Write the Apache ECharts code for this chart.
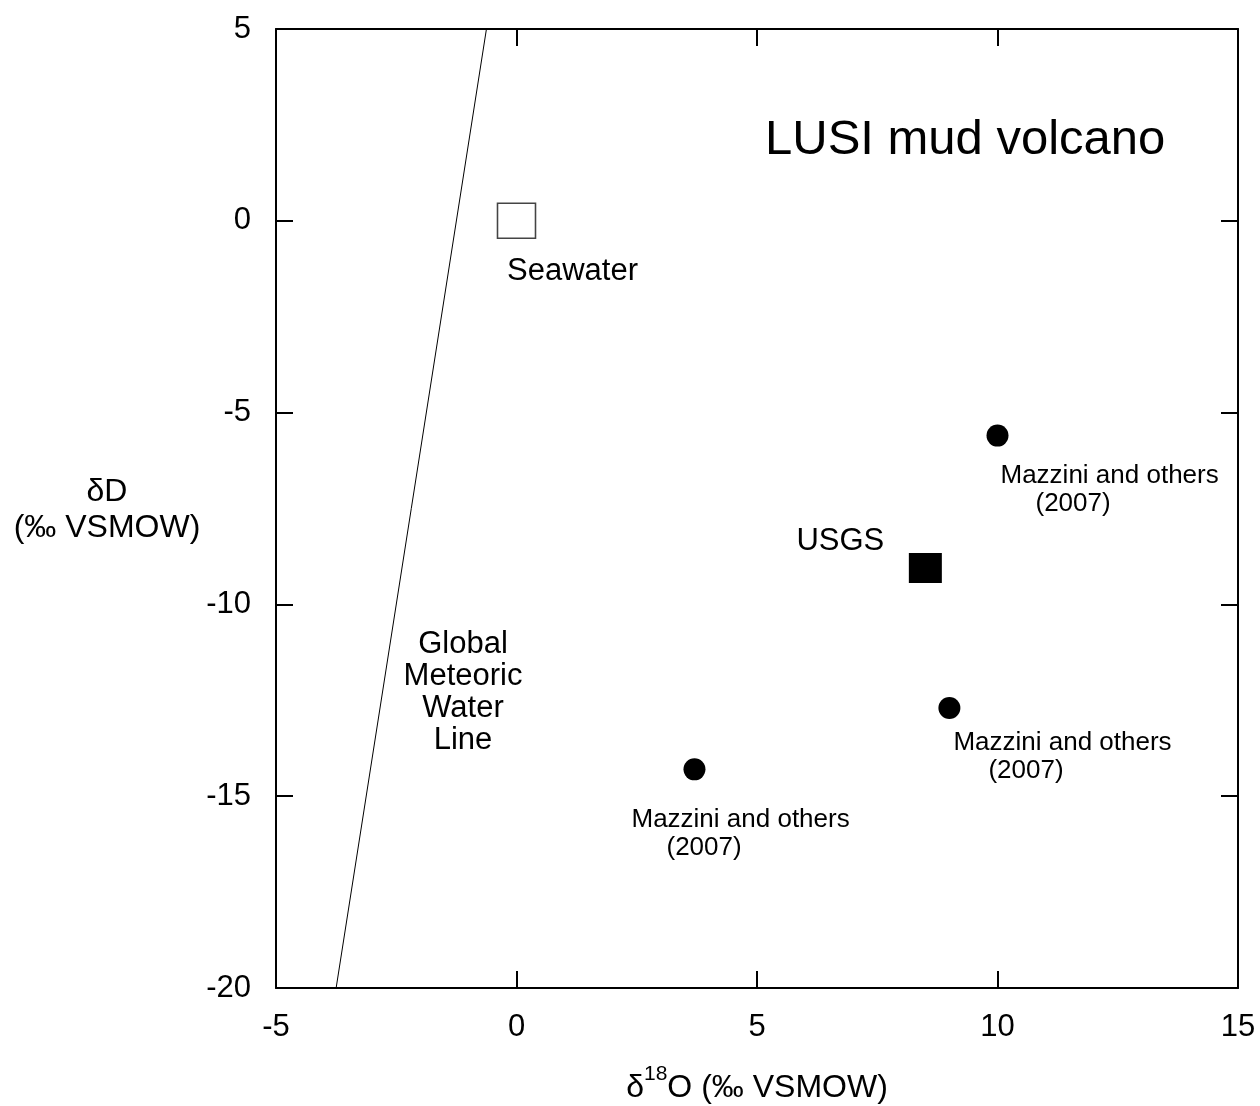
<!DOCTYPE html>
<html>
<head>
<meta charset="utf-8">
<title>LUSI mud volcano</title>
<script src="https://cdn.jsdelivr.net/npm/echarts@6/dist/echarts.min.js"></script>
<style>
  html, body { margin: 0; padding: 0; background: #fff; }
  #chart { width: 1260px; height: 1106px; }
</style>
</head>
<body>
<div id="chart"></div>
<script>
// values
const xTicks = [-5, 0, 5, 10, 15];
const yTicks = [-20, -15, -10, -5, 0, 5];

const gmwlX = [-3.75, -0.625];
const gmwlY = [-20, 5];

const seawaterX = [0];
const seawaterY = [0];

const usgsX = [8.5];
const usgsY = [-9.05];

const mazziniX = [10, 9, 3.7];
const mazziniY = [-5.6, -12.7, -14.3];

// label offsets for the Mazzini points (pixels, from the symbol centre)
const mazziniOffsets = [[3, 54], [4, 49], [-63, 64]];

const FONT = "'Liberation Sans', Arial, Helvetica, sans-serif";

const chart = echarts.init(document.getElementById("chart"));

const axisLine = { show: true, onZero: false, lineStyle: { color: "#000", width: 2 } };
const axisTick = { show: true, inside: true, length: 17, lineStyle: { color: "#000", width: 2 } };

const option = {
  animation: false,
  backgroundColor: "#fff",
  textStyle: { fontFamily: FONT, color: "#000" },
  grid: { left: 276, right: 22, top: 29, bottom: 118, outerBoundsMode: "none", containLabel: false },
  title: {
    text: "LUSI mud volcano",
    left: 760,
    top: 111,
    textStyle: { fontFamily: FONT, fontSize: 49, fontWeight: "normal", color: "#000" }
  },
  xAxis: [
    {
      type: "value",
      min: xTicks[0],
      max: xTicks[xTicks.length - 1],
      interval: 5,
      position: "bottom",
      axisLine: axisLine,
      axisTick: axisTick,
      splitLine: { show: false },
      axisLabel: { fontSize: 31, color: "#000", margin: 24, fontFamily: FONT },
      name: "{d|δ}{s|18}{d|O (‰ VSMOW)}",
      nameLocation: "middle",
      nameGap: 76,
      nameTextStyle: {
        rich: {
          d: { fontSize: 32, lineHeight: 48, color: "#000", fontFamily: FONT },
          s: { fontSize: 21, lineHeight: 22, verticalAlign: "top", color: "#000", fontFamily: FONT }
        }
      }
    },
    {
      type: "value",
      min: xTicks[0],
      max: xTicks[xTicks.length - 1],
      interval: 5,
      position: "top",
      axisLine: axisLine,
      axisTick: axisTick,
      splitLine: { show: false },
      axisLabel: { show: false }
    }
  ],
  yAxis: [
    {
      type: "value",
      min: yTicks[0],
      max: yTicks[yTicks.length - 1],
      interval: 5,
      position: "left",
      axisLine: axisLine,
      axisTick: axisTick,
      splitLine: { show: false },
      axisLabel: { fontSize: 31, color: "#000", margin: 25, fontFamily: FONT }
    },
    {
      type: "value",
      min: yTicks[0],
      max: yTicks[yTicks.length - 1],
      interval: 5,
      position: "right",
      axisLine: axisLine,
      axisTick: axisTick,
      splitLine: { show: false },
      axisLabel: { show: false }
    }
  ],
  graphic: [
    {
      type: "text",
      x: 107,
      y: 510,
      style: {
        text: "δD\n(‰ VSMOW)",
        font: "32px " + FONT,
        fill: "#000",
        align: "center",
        verticalAlign: "middle",
        lineHeight: 36
      }
    },
    {
      type: "text",
      x: 463,
      y: 692,
      style: {
        text: "Global\nMeteoric\nWater\nLine",
        font: "31px " + FONT,
        fill: "#000",
        align: "center",
        verticalAlign: "middle",
        lineHeight: 32
      }
    }
  ],
  series: [
    {
      name: "GMWL",
      type: "line",
      data: gmwlX.map((x, i) => [x, gmwlY[i]]),
      symbol: "none",
      lineStyle: { color: "#000", width: 1 },
      z: 1
    },
    {
      name: "Seawater",
      type: "scatter",
      data: seawaterX.map((x, i) => [x, seawaterY[i]]),
      symbol: "rect",
      symbolSize: [38, 35],
      itemStyle: { color: "#fff", borderColor: "#444", borderWidth: 1.5, opacity: 1 },
      label: {
        show: true,
        formatter: "Seawater",
        position: "inside",
        offset: [56, 51],
        fontSize: 31,
        color: "#000",
        fontFamily: FONT
      }
    },
    {
      name: "USGS",
      type: "scatter",
      data: usgsX.map((x, i) => [x, usgsY[i]]),
      symbol: "rect",
      symbolSize: [33, 30],
      itemStyle: { color: "#000", opacity: 1 },
      label: {
        show: true,
        formatter: "USGS",
        position: "inside",
        offset: [-85, -27],
        fontSize: 31,
        color: "#000",
        fontFamily: FONT
      }
    },
    {
      name: "Mazzini",
      type: "scatter",
      symbol: "circle",
      symbolSize: 22,
      itemStyle: { color: "#000", opacity: 1 },
      data: mazziniX.map((x, i) => ({
        value: [x, mazziniY[i]],
        label: {
          show: true,
          position: "inside",
          align: "left",
          verticalAlign: "middle",
          offset: mazziniOffsets[i],
          formatter: "{a|Mazzini and others}\n{b|(2007)}",
          rich: {
            a: { fontSize: 26, lineHeight: 28, color: "#000", fontFamily: FONT },
            b: { fontSize: 26, lineHeight: 28, color: "#000", fontFamily: FONT, padding: [0, 0, 0, 35] }
          }
        }
      }))
    }
  ]
};

chart.setOption(option);
</script>
</body>
</html>
